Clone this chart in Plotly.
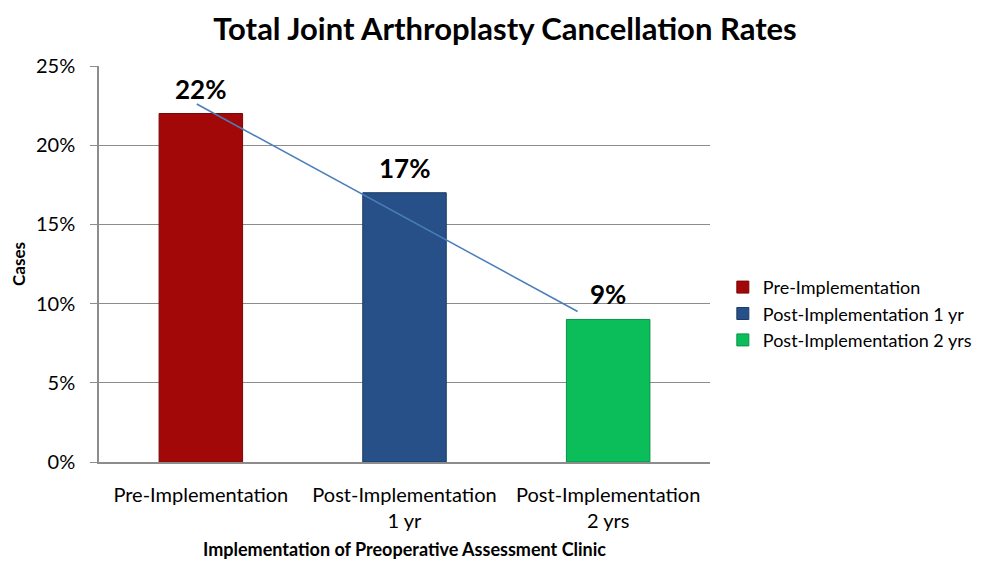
import plotly.graph_objects as go

categories = ["Pre-Implementation", "Post-Implementation<br>1 yr", "Post-Implementation<br>2 yrs"]
legend_names = ["Pre-Implementation", "Post-Implementation 1 yr", "Post-Implementation 2 yrs"]
values = [22, 17, 9]
bar_colors = ["#A30808", "#265087", "#0BBE5A"]
edge_colors = ["#7A0606", "#1B3B66", "#08914A"]
trend_x = [-0.02, 1.85]
trend_y = [22.6, 9.5]
y_ticks = [0, 5, 10, 15, 20, 25]
y_tick_text = [f"{v}%" for v in y_ticks]

FONT = "Lato, 'Open Sans', sans-serif"

fig = go.Figure()
for i, (name, v) in enumerate(zip(legend_names, values)):
    fig.add_trace(go.Bar(
        x=[i], y=[v], name=name, width=0.41, legendgroup=f"g{i}",
        marker=dict(color=bar_colors[i], line=dict(color=edge_colors[i], width=1)),
    ))
    fig.add_annotation(
        x=i, y=v, text=f"<b>{v}%</b>", showarrow=False,
        xanchor="center", yanchor="middle", yshift=25,
        font=dict(size=26, color="black", family=FONT),
    )

fig.add_trace(go.Scatter(
    x=trend_x, y=trend_y, mode="lines", showlegend=False,
    line=dict(color="#4A7EBB", width=1.5), hoverinfo="skip",
))

fig.update_layout(
    width=994, height=563, autosize=False,
    margin=dict(l=91, r=292, t=58, b=109),
    paper_bgcolor="white", plot_bgcolor="white",
    barmode="overlay",
    font=dict(family=FONT, color="black"),
    title=dict(text="<b>Total Joint Arthroplasty Cancellation Rates</b>",
               x=0.5, xanchor="center", y=0.962, yanchor="middle",
               font=dict(size=31, family=FONT, color="black")),
    legend=dict(x=1.021, y=0.374, xanchor="left", yanchor="middle",
                font=dict(size=18, family=FONT), itemwidth=30,
                traceorder="grouped", tracegroupgap=0),
    xaxis=dict(
        tickmode="array", tickvals=[0, 1, 2], ticktext=categories,
        range=[-0.5, 2.5], showgrid=False, zeroline=False,
        showline=True, linecolor="#8C8C8C", linewidth=1.5,
        ticks="", tickfont=dict(size=20, family=FONT),
        ticklabelstandoff=14, automargin=False,
        title=dict(text="<b>Implementation of Preoperative Assessment Clinic</b>",
                   font=dict(size=18, family=FONT), standoff=13),
    ),
    yaxis=dict(
        range=[0, 25], tickmode="array", tickvals=y_ticks, ticktext=y_tick_text,
        showgrid=True, gridcolor="#8C8C8C", gridwidth=1,
        zeroline=False, showline=True, linecolor="#8C8C8C", linewidth=1.5,
        ticks="outside", ticklen=7, tickcolor="#8C8C8C",
        tickfont=dict(size=20, family=FONT), ticklabelstandoff=11,
        automargin=False,
        title=dict(text="<b>Cases</b>", font=dict(size=17, family=FONT), standoff=10),
    ),
)

fig.write_html("out.html")
